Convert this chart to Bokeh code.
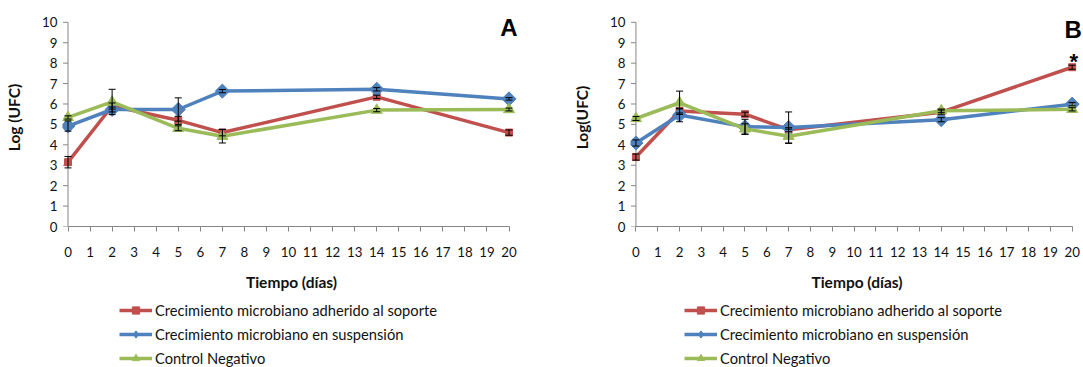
import math
from bokeh.plotting import figure
from bokeh.models import (ColumnDataSource, Whisker, TeeHead, Legend, LegendItem,
                          Label, Range1d, FixedTicker)
from bokeh.layouts import row, column
from bokeh.embed import file_html
from bokeh.resources import INLINE

# ---------------- data ----------------
dias = [0, 2, 5, 7, 14, 20]
x_ticks = list(range(0, 21))
y_ticks = list(range(0, 11))

series_names = ["Crecimiento microbiano adherido al soporte",
                "Crecimiento microbiano en suspensión",
                "Control Negativo"]

# Panel A
a_soporte = [3.15, 5.9, 5.2, 4.6, 6.35, 4.6]
a_suspension = [4.92, 5.73, 5.73, 6.63, 6.72, 6.25]
a_control = [5.34, 6.1, 4.81, 4.42, 5.7, 5.73]
a_err_soporte = [0.28, 0.15, 0.2, 0.16, 0.08, 0.13]
a_err_suspension = [0.25, 0.12, 0.57, 0.08, 0.08, 0.06]
a_err_control = [0.08, 0.62, 0.12, 0.33, 0.08, 0.07]

# Panel B
b_soporte = [3.4, 5.66, 5.5, 4.74, 5.6, 7.8]
b_suspension = [4.09, 5.46, 4.88, 4.85, 5.23, 5.99]
b_control = [5.29, 6.06, 4.78, 4.42, 5.67, 5.74]
b_err_soporte = [0.15, 0.1, 0.1, 0.1, 0.1, 0.1]
b_err_suspension = [0.15, 0.33, 0.37, 0.76, 0.1, 0.08]
b_err_control = [0.1, 0.57, 0.25, 0.35, 0.08, 0.08]

colors = ["#C0504D", "#4F81BD", "#9BBB59"]
FONT = "Lato"
AXIS_GRAY = "#868686"
TXT = "#111111"
TITLE_SIZE = "15.5px"

# marker styles: (marker, angle, size) for plot and for legend
PLOT_MARKERS = [("square", 0, 7), ("square", math.pi / 4, 10), ("triangle", 0, 11)]
LEGEND_MARKERS = [("square", 0, 7), ("diamond", 0, 14), ("triangle", 0, 10)]

PX_PER_DAY = 22.05
PX_PER_UNIT = 20.7
X_PAD_LEFT = 0.25


def add_series(p, vals, styles):
    rs = []
    for v, c, (m, a, s) in zip(vals, colors, styles):
        src = ColumnDataSource(dict(x=dias, y=v))
        ln = p.line("x", "y", source=src, line_color=c, line_width=3.5)
        sc = p.scatter("x", "y", source=src, marker=m, size=s, angle=a,
                       fill_color=c, line_color=c)
        rs.append((ln, sc))
    return rs


def make_panel(vals, errs, ylabel, letter, letter_pos, width, border_top,
               border_left, border_right, bottom_total, star=None):
    frame_w = width - border_left - border_right
    frame_h = 221
    x_end = -X_PAD_LEFT + frame_w / PX_PER_DAY
    y_end = frame_h / PX_PER_UNIT
    p = figure(width=width, height=border_top + frame_h + bottom_total,
               min_border_left=border_left, min_border_right=border_right,
               min_border_top=border_top, min_border_bottom=bottom_total,
               x_range=Range1d(-X_PAD_LEFT, x_end), y_range=Range1d(0, y_end),
               output_backend="svg", toolbar_location=None,
               background_fill_color="white", border_fill_color="white")
    p.outline_line_color = None
    p.xgrid.visible = False
    p.ygrid.visible = False

    # y axis line at x = 0 with outward ticks
    p.segment(x0=[0], y0=[y_ticks[0]], x1=[0], y1=[y_ticks[-1]],
              line_color=AXIS_GRAY, line_width=1)
    p.ray(x=[0] * len(y_ticks), y=y_ticks, length=5, length_units="screen",
          angle=math.pi, line_color=AXIS_GRAY, line_width=1)

    add_series(p, vals, PLOT_MARKERS)
    for v, e in zip(vals, errs):
        src = ColumnDataSource(dict(x=dias,
                                    upper=[a + b for a, b in zip(v, e)],
                                    lower=[a - b for a, b in zip(v, e)]))
        w = Whisker(source=src, base="x", upper="upper", lower="lower",
                    line_color="black", line_width=1, level="overlay",
                    upper_head=TeeHead(size=7, line_color="black", line_width=1),
                    lower_head=TeeHead(size=7, line_color="black", line_width=1))
        p.add_layout(w)

    # x axis
    xa = p.xaxis[0]
    xa.ticker = FixedTicker(ticks=x_ticks)
    xa.bounds = (0, 20)
    xa.axis_line_color = AXIS_GRAY
    xa.major_tick_line_color = AXIS_GRAY
    xa.major_tick_out = 5
    xa.major_tick_in = 0
    xa.minor_tick_line_color = None
    xa.major_label_standoff = 15
    xa.major_label_text_font = FONT
    xa.major_label_text_font_size = "13.3px"
    xa.major_label_text_color = TXT
    xa.axis_label = "Tiempo (días)"
    xa.axis_label_standoff = 13
    xa.axis_label_text_font = FONT
    xa.axis_label_text_font_style = "bold"
    xa.axis_label_text_font_size = TITLE_SIZE
    xa.axis_label_text_color = TXT

    # y axis labels (line and ticks drawn at x = 0 above)
    ya = p.yaxis[0]
    ya.ticker = FixedTicker(ticks=y_ticks)
    ya.axis_line_color = None
    ya.major_tick_line_color = None
    ya.major_tick_out = 0
    ya.major_tick_in = 0
    ya.minor_tick_line_color = None
    ya.major_label_standoff = 5
    ya.major_label_text_font = FONT
    ya.major_label_text_font_size = "13.3px"
    ya.major_label_text_color = TXT
    ya.axis_label = ylabel
    ya.axis_label_standoff = 16
    ya.axis_label_text_font = FONT
    ya.axis_label_text_font_style = "bold"
    ya.axis_label_text_font_size = TITLE_SIZE
    ya.axis_label_text_color = TXT

    p.add_layout(Label(x=letter_pos[0], y=letter_pos[1], text=letter,
                       text_font="Liberation Sans", text_font_style="bold",
                       text_font_size="24px", text_align="center",
                       text_baseline="middle", text_color="black"))
    if star is not None:
        p.add_layout(Label(x=star[0], y=star[1], text="*",
                           text_font="Liberation Sans", text_font_style="bold",
                           text_font_size="22px", text_align="center",
                           text_baseline="middle", text_color="black"))
    return p


def make_legend_fig(vals, width, height, loc):
    # the series are drawn off-range; only the legend is visible
    lf = figure(width=width, height=height, min_border=0,
                x_range=Range1d(1000, 1001), y_range=Range1d(1000, 1001),
                x_axis_location=None, y_axis_location=None,
                output_backend="svg", toolbar_location=None,
                background_fill_color="white", border_fill_color="white")
    lf.outline_line_color = None
    lf.xgrid.visible = False
    lf.ygrid.visible = False
    rs = add_series(lf, vals, LEGEND_MARKERS)
    items = [LegendItem(label=n, renderers=[ln, sc]) for n, (ln, sc) in zip(series_names, rs)]
    legend = Legend(items=items, location=loc, orientation="vertical",
                    glyph_width=33, glyph_height=18, label_height=18,
                    label_standoff=3, spacing=6, padding=0, margin=0,
                    border_line_color=None, background_fill_alpha=0,
                    label_text_font=FONT, label_text_font_size="14.7px",
                    label_text_color=TXT)
    lf.add_layout(legend)
    return lf


A_vals = [a_soporte, a_suspension, a_control]
B_vals = [b_soporte, b_suspension, b_control]

pA = make_panel(A_vals, [a_err_soporte, a_err_suspension, a_err_control],
                "Log (UFC)", "A", (20.0, 9.76), 570, 8, 62, 50, 71)
pB = make_panel(B_vals, [b_err_soporte, b_err_suspension, b_err_control],
                "Log(UFC)", "B", (20.05, 9.66), 513, 5, 55, 0, 74,
                star=(20.08, 8.1))

lA = make_legend_fig(A_vals, 570, 67, (119, 0))
lB = make_legend_fig(B_vals, 513, 67, (114, 0))

layout = column(row(pA, pB), row(lA, lB))
open("out.html", "w").write(file_html(layout, INLINE))
